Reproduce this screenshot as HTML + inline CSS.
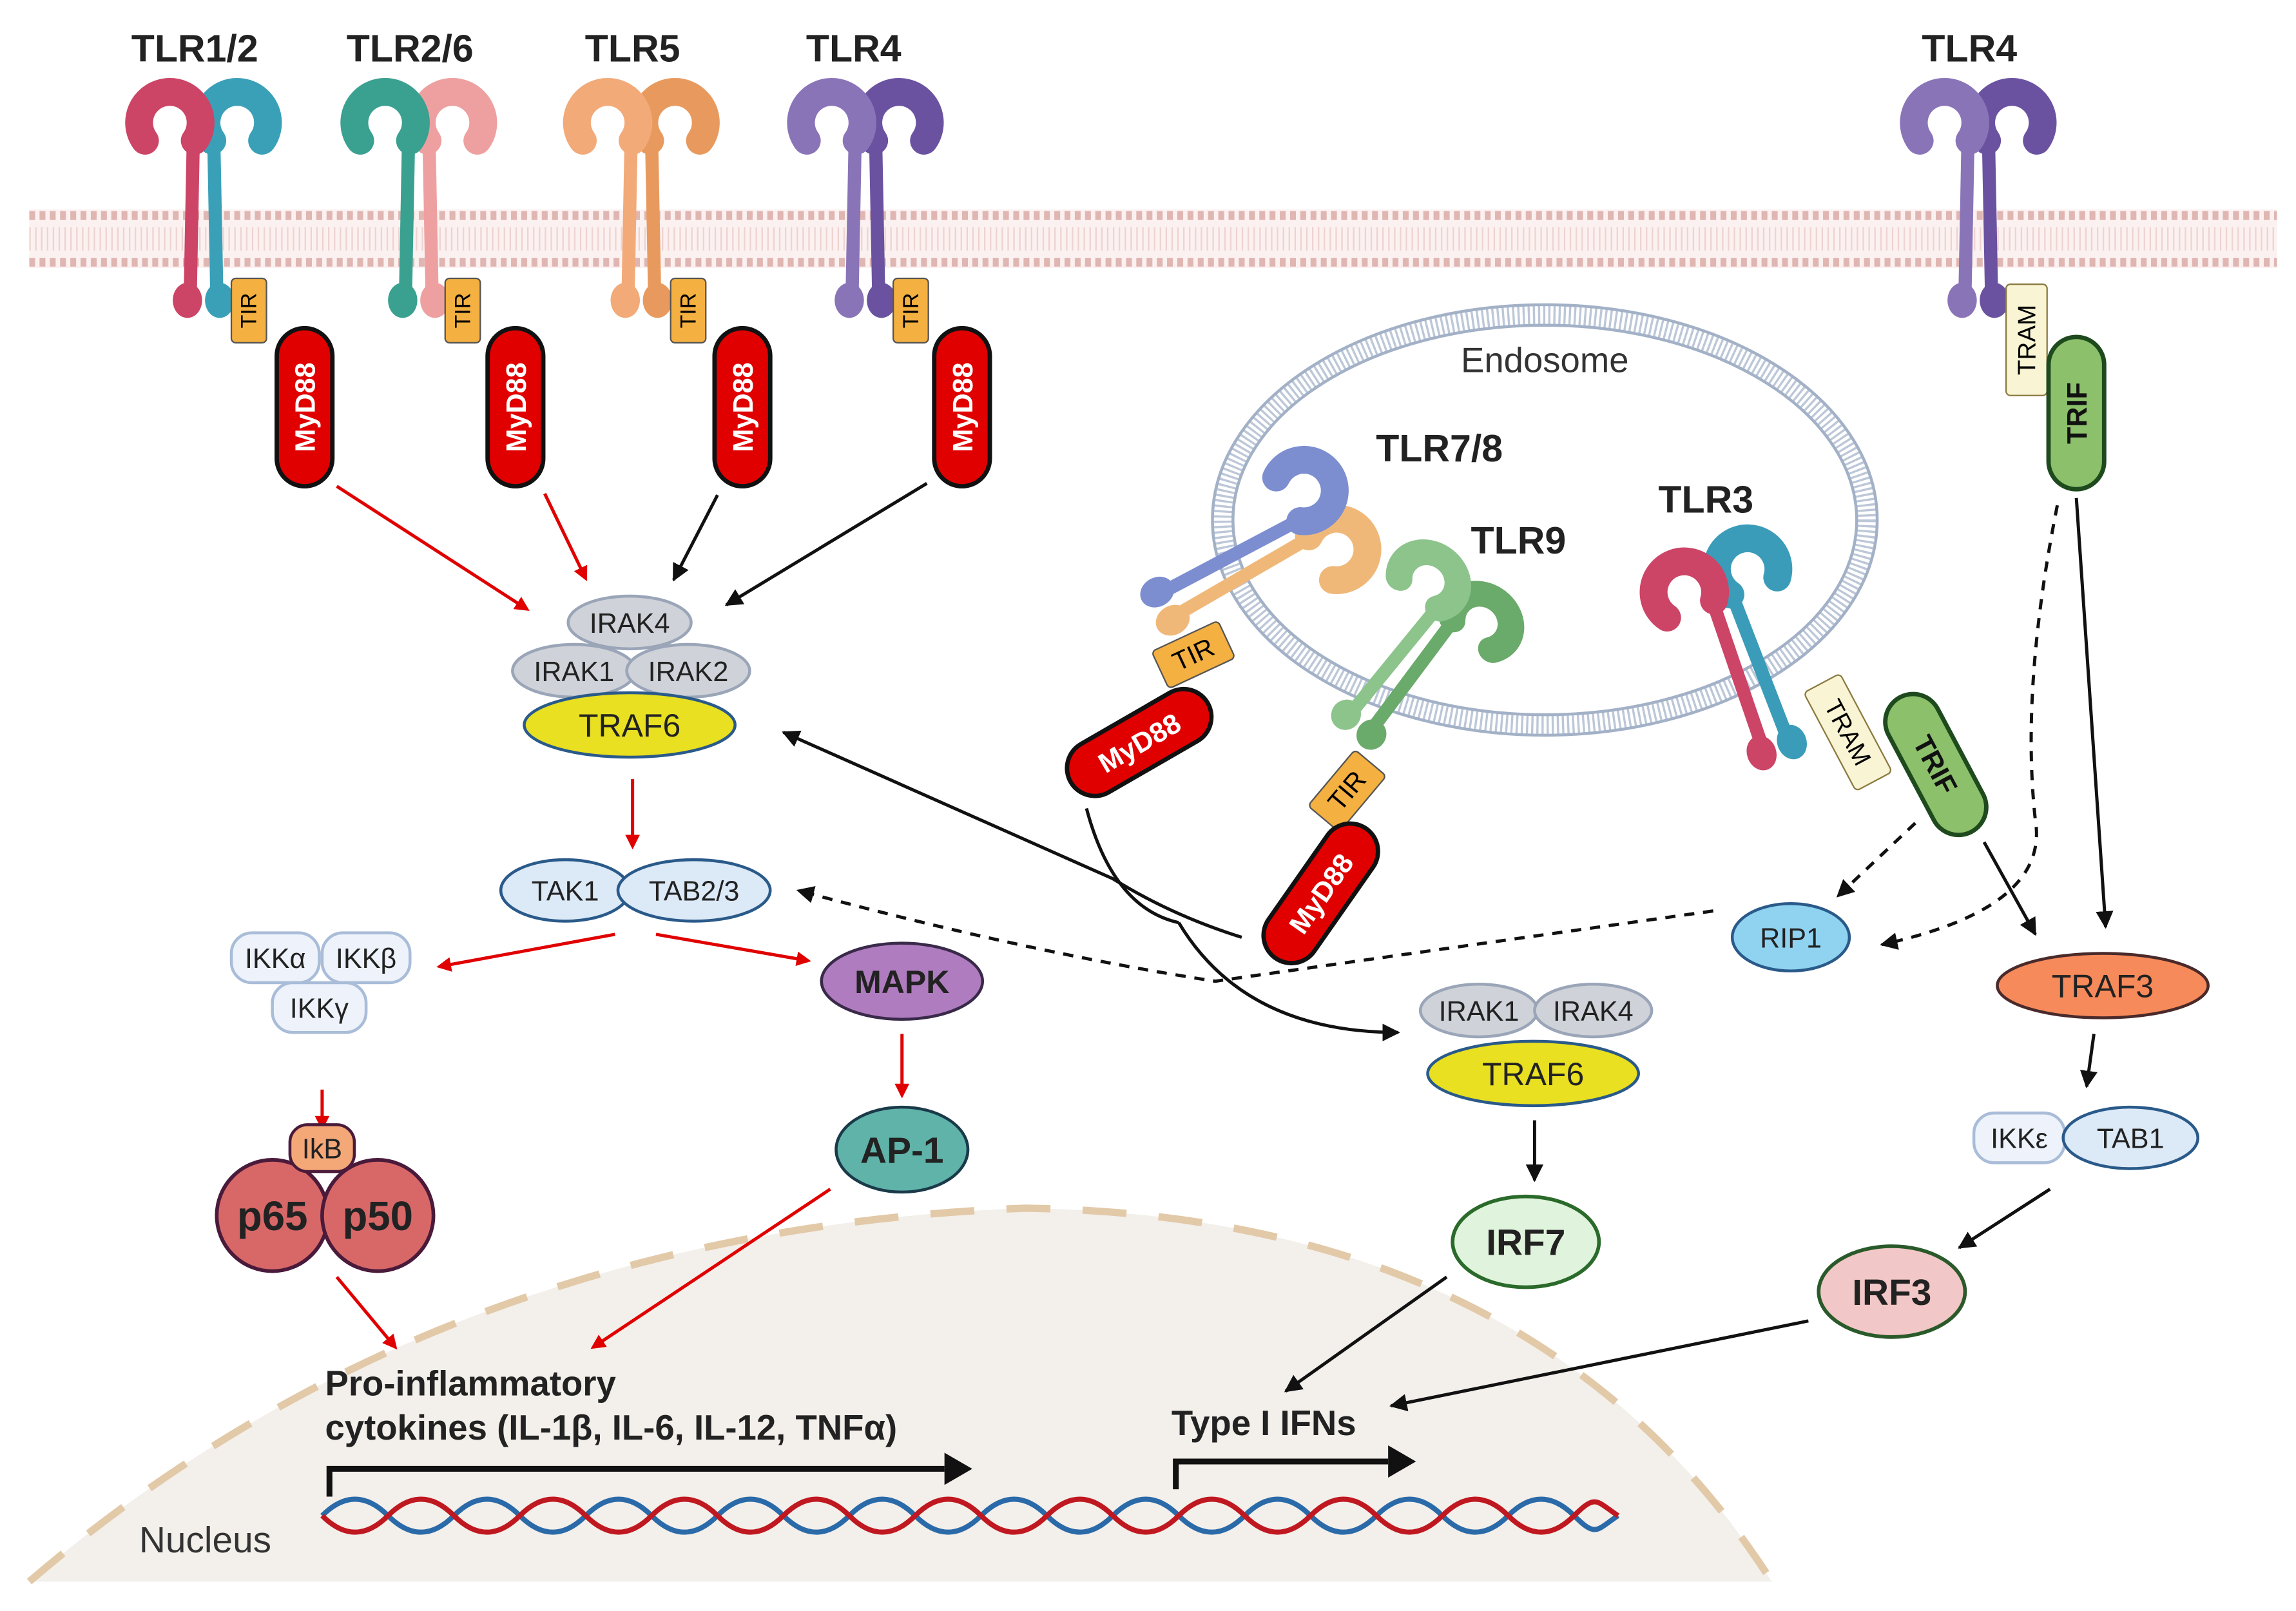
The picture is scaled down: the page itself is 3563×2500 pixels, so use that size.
<!DOCTYPE html>
<html><head><meta charset="utf-8"><style>
html,body{margin:0;padding:0;background:#fff}
svg{display:block}
text{font-family:"Liberation Sans",sans-serif}
.b{font-weight:bold}
</style></head><body>
<svg width="3563" height="2500" viewBox="0 0 1568 1100" xmlns="http://www.w3.org/2000/svg">
<defs>
<marker id="ar" markerWidth="10" markerHeight="10" refX="8" refY="5" orient="auto" markerUnits="userSpaceOnUse" viewBox="0 0 10 10"><path d="M0,0 L10,5 L0,10 z" fill="#e00000"/></marker>
<marker id="ak" markerWidth="12" markerHeight="12" refX="9" refY="5" orient="auto" markerUnits="userSpaceOnUse" viewBox="0 0 10 10"><path d="M0,0 L10,5 L0,10 z" fill="#111"/></marker>
<g id="half">
<path d="M -34 96 A 21 21 0 1 1 0 96" fill="none" stroke-width="19" stroke-linecap="round"/>
<line x1="-1" y1="95" x2="-3" y2="198" stroke-width="9"/>
<ellipse cx="-5" cy="205" rx="10" ry="12" stroke="none"/>
</g>
</defs>

<!-- Nucleus -->
<path d="M20,1080 Q300,840 700,825 Q1050,830 1210,1080 Z" fill="#f3efea"/>
<path d="M20,1080 Q300,840 700,825 Q1050,830 1210,1080" fill="none" stroke="#e2c9a8" stroke-width="5" stroke-dasharray="30 22"/>

<!-- Membrane -->
<rect x="20" y="143" width="1535" height="40" fill="#fbf1f0"/>
<line x1="20" y1="147" x2="1555" y2="147" stroke="#e0b6b2" stroke-width="6" stroke-dasharray="4 3"/>
<line x1="20" y1="179" x2="1555" y2="179" stroke="#e0b6b2" stroke-width="6" stroke-dasharray="4 3"/>
<line x1="20" y1="163" x2="1555" y2="163" stroke="#eed3d0" stroke-width="16" stroke-dasharray="1 3"/>

<!-- Endosome -->
<ellipse cx="1055" cy="355" rx="220" ry="140" fill="#fff" stroke="#bcc7d8" stroke-width="14" stroke-dasharray="1.5 2"/>
<ellipse cx="1055" cy="355" rx="227" ry="147" fill="none" stroke="#a3b1c7" stroke-width="2"/>
<ellipse cx="1055" cy="355" rx="213" ry="133" fill="none" stroke="#a3b1c7" stroke-width="2"/>
<text x="1055" y="254" font-size="24" text-anchor="middle" fill="#333">Endosome</text>

<!-- Surface receptors -->
<g transform="translate(133,0)"><g transform="translate(12,0) scale(-1,1)" fill="#3aa0b8" stroke="#3aa0b8"><use href="#half"/></g><g fill="#cc4466" stroke="#cc4466"><use href="#half"/></g></g>
<g transform="translate(280,0)"><g transform="translate(12,0) scale(-1,1)" fill="#eea0a0" stroke="#eea0a0"><use href="#half"/></g><g fill="#3aa090" stroke="#3aa090"><use href="#half"/></g></g>
<g transform="translate(432,0)"><g transform="translate(12,0) scale(-1,1)" fill="#e89a5e" stroke="#e89a5e"><use href="#half"/></g><g fill="#f2aa78" stroke="#f2aa78"><use href="#half"/></g></g>
<g transform="translate(585,0)"><g transform="translate(12,0) scale(-1,1)" fill="#6a52a0" stroke="#6a52a0"><use href="#half"/></g><g fill="#8a74b8" stroke="#8a74b8"><use href="#half"/></g></g>
<g transform="translate(1345,0)"><g transform="translate(12,0) scale(-1,1)" fill="#6a52a0" stroke="#6a52a0"><use href="#half"/></g><g fill="#8a74b8" stroke="#8a74b8"><use href="#half"/></g></g>

<g class="b" font-size="26" text-anchor="middle" fill="#222">
<text x="133" y="42">TLR1/2</text><text x="280" y="42">TLR2/6</text><text x="432" y="42">TLR5</text><text x="583" y="42">TLR4</text><text x="1345" y="42">TLR4</text>
<text x="983" y="315">TLR7/8</text><text x="1037" y="378">TLR9</text><text x="1165" y="350">TLR3</text>
</g>

<!-- Endosomal receptors -->
<g transform="translate(902,348) rotate(61) translate(0,-80)"><g transform="translate(12,0) scale(-1,1)" fill="#f0b878" stroke="#f0b878"><use href="#half"/></g><g fill="#7c8ed0" stroke="#7c8ed0"><use href="#half"/></g></g>
<g transform="translate(985,412) rotate(38) translate(0,-80) scale(1,0.88)"><g transform="translate(12,0) scale(-1,1)" fill="#6aaa6a" stroke="#6aaa6a"><use href="#half"/></g><g fill="#8cc48c" stroke="#8cc48c"><use href="#half"/></g></g>
<g transform="translate(1165,395) rotate(-20) translate(0,-80)"><g transform="translate(12,0) scale(-1,1)" fill="#3a9cb8" stroke="#3a9cb8"><use href="#half"/></g><g fill="#cc4466" stroke="#cc4466"><use href="#half"/></g></g>

<!-- TIR + TRAM -->
<g font-size="15" text-anchor="middle">
<g transform="translate(170,212) rotate(-90)"><rect x="-22" y="-12" width="44" height="24" rx="3" fill="#f4b040" stroke="#555"/><text y="5">TIR</text></g>
<g transform="translate(316,212) rotate(-90)"><rect x="-22" y="-12" width="44" height="24" rx="3" fill="#f4b040" stroke="#555"/><text y="5">TIR</text></g>
<g transform="translate(470,212) rotate(-90)"><rect x="-22" y="-12" width="44" height="24" rx="3" fill="#f4b040" stroke="#555"/><text y="5">TIR</text></g>
<g transform="translate(622,212) rotate(-90)"><rect x="-22" y="-12" width="44" height="24" rx="3" fill="#f4b040" stroke="#555"/><text y="5">TIR</text></g>
<g transform="translate(815,447) rotate(-25)"><rect x="-25" y="-14" width="50" height="28" rx="3" fill="#f4b040" stroke="#555"/><text y="6" font-size="18">TIR</text></g>
<g transform="translate(920,540) rotate(-50)"><rect x="-25" y="-14" width="50" height="28" rx="3" fill="#f4b040" stroke="#555"/><text y="6" font-size="18">TIR</text></g>
<g transform="translate(1384,232) rotate(-90)"><rect x="-38" y="-14" width="76" height="28" rx="3" fill="#f8f4d4" stroke="#8a7a40"/><text y="6" font-size="17">TRAM</text></g>
<g transform="translate(1262,500) rotate(62)"><rect x="-38" y="-14" width="76" height="28" rx="3" fill="#f8f4d4" stroke="#8a7a40"/><text y="6" font-size="17">TRAM</text></g>
</g>
<g font-size="19" class="b" text-anchor="middle" fill="#fff">
<g transform="translate(208,278) rotate(-90)"><rect x="-54" y="-19" width="108" height="38" rx="19" fill="#e00000" stroke="#111" stroke-width="3"/><text y="7">MyD88</text></g>
<g transform="translate(352,278) rotate(-90)"><rect x="-54" y="-19" width="108" height="38" rx="19" fill="#e00000" stroke="#111" stroke-width="3"/><text y="7">MyD88</text></g>
<g transform="translate(507,278) rotate(-90)"><rect x="-54" y="-19" width="108" height="38" rx="19" fill="#e00000" stroke="#111" stroke-width="3"/><text y="7">MyD88</text></g>
<g transform="translate(657,278) rotate(-90)"><rect x="-54" y="-19" width="108" height="38" rx="19" fill="#e00000" stroke="#111" stroke-width="3"/><text y="7">MyD88</text></g>
<g transform="translate(778,507) rotate(-30)"><rect x="-54" y="-19" width="108" height="38" rx="19" fill="#e00000" stroke="#111" stroke-width="3"/><text y="7">MyD88</text></g>
<g transform="translate(902,610) rotate(-55)"><rect x="-54" y="-19" width="108" height="38" rx="19" fill="#e00000" stroke="#111" stroke-width="3"/><text y="7">MyD88</text></g>
<g transform="translate(1418,282) rotate(-90)"><rect x="-52" y="-19" width="104" height="38" rx="19" fill="#8cc06a" stroke="#1e4a1e" stroke-width="3"/><text y="7" fill="#111">TRIF</text></g>
<g transform="translate(1322,522) rotate(62)"><rect x="-52" y="-19" width="104" height="38" rx="19" fill="#8cc06a" stroke="#1e4a1e" stroke-width="3"/><text y="7" fill="#111">TRIF</text></g>
</g>

<!-- Connectors -->
<g stroke-width="2.2" fill="none">
<line x1="230" y1="332" x2="360" y2="416" stroke="#e00000" marker-end="url(#ar)"/>
<line x1="372" y1="337" x2="400" y2="395" stroke="#e00000" marker-end="url(#ar)"/>
<line x1="490" y1="338" x2="460" y2="396" stroke="#111" marker-end="url(#ak)"/>
<line x1="633" y1="330" x2="496" y2="413" stroke="#111" marker-end="url(#ak)"/>
<line x1="432" y1="532" x2="432" y2="578" stroke="#e00000" marker-end="url(#ar)"/>
<line x1="420" y1="638" x2="300" y2="660" stroke="#e00000" marker-end="url(#ar)"/>
<line x1="448" y1="638" x2="552" y2="656" stroke="#e00000" marker-end="url(#ar)"/>
<line x1="616" y1="706" x2="616" y2="748" stroke="#e00000" marker-end="url(#ar)"/>
<line x1="220" y1="744" x2="220" y2="770" stroke="#e00000" marker-end="url(#ar)"/>
<line x1="230" y1="872" x2="270" y2="920" stroke="#e00000" marker-end="url(#ar)"/>
<line x1="567" y1="812" x2="405" y2="920" stroke="#e00000" marker-end="url(#ar)"/>
<path d="M848,640 Q800,625 760,600 L535,500" stroke="#111" marker-end="url(#ak)"/>
<path d="M742,552 Q760,620 805,630" stroke="#111"/>
<path d="M805,630 Q850,705 955,705" stroke="#111" marker-end="url(#ak)"/>
<path d="M1170,622 Q900,660 830,670 Q700,650 545,608" stroke="#111" stroke-dasharray="7 6" marker-end="url(#ak)"/>
<line x1="1308" y1="562" x2="1255" y2="612" stroke="#111" stroke-dasharray="7 6" marker-end="url(#ak)"/>
<line x1="1355" y1="575" x2="1390" y2="638" stroke="#111" marker-end="url(#ak)"/>
<path d="M1405,345 Q1380,470 1390,560 Q1400,620 1285,645" stroke="#111" stroke-dasharray="7 6" marker-end="url(#ak)"/>
<line x1="1418" y1="340" x2="1438" y2="633" stroke="#111" marker-end="url(#ak)"/>
<line x1="1430" y1="706" x2="1425" y2="742" stroke="#111" marker-end="url(#ak)"/>
<line x1="1400" y1="812" x2="1338" y2="852" stroke="#111" marker-end="url(#ak)"/>
<line x1="1048" y1="765" x2="1048" y2="806" stroke="#111" marker-end="url(#ak)"/>
<line x1="988" y1="872" x2="878" y2="950" stroke="#111" marker-end="url(#ak)"/>
<line x1="1235" y1="902" x2="950" y2="960" stroke="#111" marker-end="url(#ak)"/>
</g>

<!-- Nodes -->
<g font-size="19" text-anchor="middle" fill="#222">
<ellipse cx="430" cy="425" rx="42" ry="18" fill="#cfd2d8" stroke="#9aa5b8" stroke-width="2"/><text x="430" y="432">IRAK4</text>
<ellipse cx="392" cy="458" rx="42" ry="18" fill="#cfd2d8" stroke="#9aa5b8" stroke-width="2"/><text x="392" y="465">IRAK1</text>
<ellipse cx="470" cy="458" rx="42" ry="18" fill="#cfd2d8" stroke="#9aa5b8" stroke-width="2"/><text x="470" y="465">IRAK2</text>
<ellipse cx="430" cy="495" rx="72" ry="22" fill="#e8e020" stroke="#2a5a8a" stroke-width="2"/><text x="430" y="503" font-size="22">TRAF6</text>
<ellipse cx="386" cy="608" rx="44" ry="21" fill="#dce9f7" stroke="#2a5a8a" stroke-width="2"/><text x="386" y="615">TAK1</text>
<ellipse cx="474" cy="608" rx="52" ry="21" fill="#dce9f7" stroke="#2a5a8a" stroke-width="2"/><text x="474" y="615">TAB2/3</text>
<rect x="158" y="637" width="60" height="34" rx="14" fill="#eef3fb" stroke="#a9bcd8" stroke-width="2"/><text x="188" y="661">IKKα</text>
<rect x="220" y="637" width="60" height="34" rx="14" fill="#eef3fb" stroke="#a9bcd8" stroke-width="2"/><text x="250" y="661">IKKβ</text>
<rect x="186" y="671" width="64" height="34" rx="14" fill="#eef3fb" stroke="#a9bcd8" stroke-width="2"/><text x="218" y="695">IKKγ</text>
<ellipse cx="616" cy="670" rx="55" ry="26" fill="#b07cc0" stroke="#3a2a4a" stroke-width="2"/><text x="616" y="678" font-size="22" class="b">MAPK</text>
<ellipse cx="616" cy="785" rx="45" ry="29" fill="#5fb3a9" stroke="#1a3a4a" stroke-width="2"/><text x="616" y="794" font-size="25" class="b">AP-1</text>
<circle cx="186" cy="830" r="38" fill="#d86868" stroke="#4a1a3a" stroke-width="2.5"/><text x="186" y="840" font-size="28" class="b">p65</text>
<circle cx="258" cy="830" r="38" fill="#d86868" stroke="#4a1a3a" stroke-width="2.5"/><text x="258" y="840" font-size="28" class="b">p50</text>
<rect x="198" y="768" width="44" height="32" rx="12" fill="#f4a878" stroke="#4a1a3a" stroke-width="2"/><text x="220" y="791">IkB</text>
<ellipse cx="1010" cy="690" rx="40" ry="18" fill="#cfd2d8" stroke="#9aa5b8" stroke-width="2"/><text x="1010" y="697">IRAK1</text>
<ellipse cx="1088" cy="690" rx="40" ry="18" fill="#cfd2d8" stroke="#9aa5b8" stroke-width="2"/><text x="1088" y="697">IRAK4</text>
<ellipse cx="1047" cy="733" rx="72" ry="22" fill="#e8e020" stroke="#2a5a8a" stroke-width="2"/><text x="1047" y="741" font-size="22">TRAF6</text>
<ellipse cx="1042" cy="848" rx="50" ry="31" fill="#e0f3dc" stroke="#2a6a2a" stroke-width="2.5"/><text x="1042" y="857" font-size="25" class="b">IRF7</text>
<ellipse cx="1223" cy="640" rx="40" ry="23" fill="#8fd3f0" stroke="#2a5a8a" stroke-width="2"/><text x="1223" y="647">RIP1</text>
<ellipse cx="1436" cy="673" rx="72" ry="22" fill="#f78a5a" stroke="#4a2a2a" stroke-width="2"/><text x="1436" y="681" font-size="22">TRAF3</text>
<rect x="1348" y="760" width="62" height="34" rx="14" fill="#eef3fb" stroke="#a9bcd8" stroke-width="2"/><text x="1379" y="784">IKKε</text>
<ellipse cx="1455" cy="777" rx="46" ry="21" fill="#dce9f7" stroke="#2a5a8a" stroke-width="2"/><text x="1455" y="784">TAB1</text>
<ellipse cx="1292" cy="882" rx="50" ry="31" fill="#f2c7c7" stroke="#2a5a2a" stroke-width="2.5"/><text x="1292" y="891" font-size="25" class="b">IRF3</text>
</g>

<!-- Nucleus content -->
<g fill="#222" font-size="24" class="b">
<text x="222" y="953">Pro-inflammatory</text>
<text x="222" y="983">cytokines (IL-1β, IL-6, IL-12, TNFα)</text>
<text x="800" y="980">Type I IFNs</text>
</g>
<text x="95" y="1060" font-size="25" fill="#333">Nucleus</text>
<g fill="none" stroke-width="3.5">
<path d="M220,1035 C235,1020 250,1020 265,1035 S295,1050 310,1035 S340,1020 355,1035 S385,1050 400,1035 S430,1020 445,1035 S475,1050 490,1035 S520,1020 535,1035 S565,1050 580,1035 S610,1020 625,1035 S655,1050 670,1035 S700,1020 715,1035 S745,1050 760,1035 S790,1020 805,1035 S835,1050 850,1035 S880,1020 895,1035 S925,1050 940,1035 S970,1020 985,1035 S1015,1050 1030,1035 S1060,1020 1075,1035 S1090,1045 1105,1035" stroke="#2a6aa8"/>
<path d="M220,1035 C235,1050 250,1050 265,1035 S295,1020 310,1035 S340,1050 355,1035 S385,1020 400,1035 S430,1050 445,1035 S475,1020 490,1035 S520,1050 535,1035 S565,1020 580,1035 S610,1050 625,1035 S655,1020 670,1035 S700,1050 715,1035 S745,1020 760,1035 S790,1050 805,1035 S835,1020 850,1035 S880,1050 895,1035 S925,1020 940,1035 S970,1050 985,1035 S1015,1020 1030,1035 S1060,1050 1075,1035 S1090,1025 1105,1035" stroke="#c01820"/>
</g>
<path d="M225,1022 L225,1003 L645,1003" fill="none" stroke="#111" stroke-width="4"/>
<path d="M645,992 L664,1003 L645,1014 z" fill="#111"/>
<path d="M803,1017 L803,998 L948,998" fill="none" stroke="#111" stroke-width="4"/>
<path d="M948,987 L967,998 L948,1009 z" fill="#111"/>
</svg>
</body></html>
